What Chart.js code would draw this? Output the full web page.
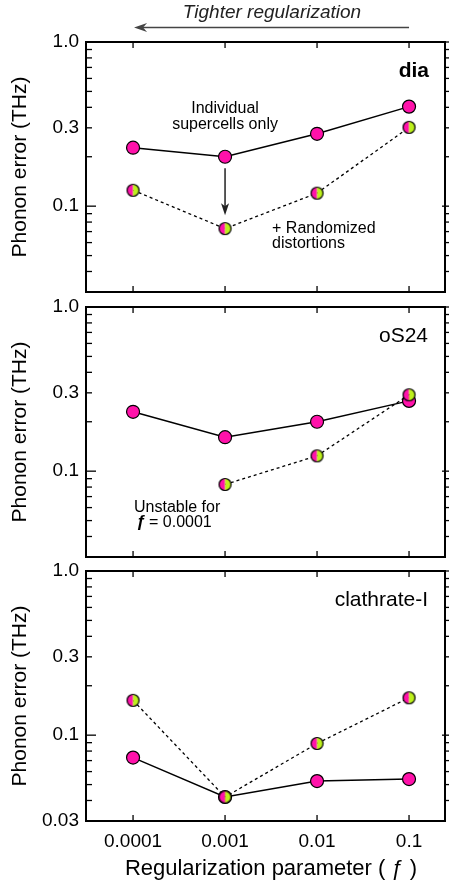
<!DOCTYPE html>
<html>
<head>
<meta charset="utf-8">
<script src="https://cdn.jsdelivr.net/npm/chart.js@4.4.1/dist/chart.umd.min.js"></script>
<style>
  body { margin: 0; background: #fff; }
  #wrap { position: relative; width: 449px; height: 884px; }
  #wrap canvas { position: absolute; left: 0; top: 0; }
</style>
</head>
<body>
<div id="wrap">
  <canvas id="dia" width="449" height="884"></canvas>
  <canvas id="os24" width="449" height="884"></canvas>
  <canvas id="clath" width="449" height="884"></canvas>
</div>
<script>
// regularization parameter f (x axis)
const regParams = [0.0001, 0.001, 0.01, 0.1];
const xTickLabels = ["0.0001", "0.001", "0.01", "0.1"];
const yTickValues = [0.03, 0.1, 0.3, 1.0];
const yTickLabels = ["0.03", "0.1", "0.3", "1.0"];
const minorTicks = [0.04, 0.05, 0.06, 0.07, 0.08, 0.09, 0.2, 0.3, 0.4, 0.5, 0.6, 0.7, 0.8, 0.9];
const majorTicks = [0.1, 1.0];

// phonon error (THz)
const diaSupercells = [0.227, 0.200, 0.276, 0.404];
const diaRandomized = [0.125, 0.073, 0.120, 0.302];
const os24Supercells = [0.230, 0.161, 0.200, 0.268];
const os24Randomized = [null, 0.083, 0.124, 0.292];
const clathSupercells = [0.073, 0.042, 0.0525, 0.054];
const clathRandomized = [0.163, 0.042, 0.089, 0.169];

const PINK = "#ff12aa";
const GREEN = "#bdf01c";
const FONT = "'Liberation Sans', Arial, sans-serif";

Chart.defaults.font.family = FONT;
Chart.defaults.color = "#000";

function halfMarker(r) {
    var c = document.createElement("canvas");
    var s = Math.ceil(2 * r + 3);
    c.width = s;
    c.height = s;
    var g = c.getContext("2d");
    var m = s / 2;
    g.fillStyle = PINK;
    g.beginPath(); g.moveTo(m, m); g.arc(m, m, r, Math.PI / 2, Math.PI * 1.5); g.closePath(); g.fill();
    g.fillStyle = GREEN;
    g.beginPath(); g.moveTo(m, m); g.arc(m, m, r, -Math.PI / 2, Math.PI / 2); g.closePath(); g.fill();
    g.strokeStyle = "#000";
    g.lineWidth = 1.2;
    g.beginPath(); g.arc(m, m, r, 0, Math.PI * 2); g.stroke();
    return c;
}
const halfPt = halfMarker(6);

function line(ctx, x1, y1, x2, y2) {
    ctx.beginPath(); ctx.moveTo(x1, y1); ctx.lineTo(x2, y2); ctx.stroke();
}

function decor(extra) {
    return {
        id: "decor",
        afterDatasetsDraw(chart) {
            var ctx = chart.ctx, a = chart.chartArea;
            var xs = chart.scales.x, ys = chart.scales.y;
            ctx.save();
            ctx.strokeStyle = "#000";
            ctx.lineWidth = 1.3;
            minorTicks.forEach(function (v) {
                var py = ys.getPixelForValue(v);
                line(ctx, a.left, py, a.left + 6, py);
                line(ctx, a.right, py, a.right + 4, py);
            });
            majorTicks.forEach(function (v) {
                var py = ys.getPixelForValue(v);
                line(ctx, a.left, py, a.left + 10, py);
                line(ctx, a.right - 3, py, a.right + 4, py);
            });
            regParams.forEach(function (v) {
                var px = xs.getPixelForValue(v);
                line(ctx, px, a.bottom, px, a.bottom - 6);
                line(ctx, px, a.top, px, a.top + 6);
            });
            ctx.lineWidth = 2;
            ctx.strokeRect(a.left, a.top, a.right - a.left, a.bottom - a.top);
            extra(ctx, a, xs, ys);
            ctx.restore();
        }
    };
}

function makePanel(id, solid, dotted, cfg) {
    var showX = cfg.showX;
    new Chart(document.getElementById(id), {
        type: "line",
        data: {
            datasets: [{
                data: regParams.map((f, i) => ({ x: f, y: dotted[i] })),
                borderColor: "#000",
                borderWidth: 1.3,
                borderDash: [3, 3],
                pointStyle: halfPt,
                pointRadius: 6,
                order: 0
            }, {
                data: regParams.map((f, i) => ({ x: f, y: solid[i] })),
                borderColor: "#000",
                borderWidth: 1.5,
                pointStyle: "circle",
                pointRadius: 6.5,
                pointBackgroundColor: PINK,
                pointBorderColor: "#000",
                pointBorderWidth: 1.2,
                order: 1
            }]
        },
        options: {
            responsive: false,
            animation: false,
            devicePixelRatio: 1,
            layout: {
                autoPadding: false,
                padding: { top: cfg.top, bottom: 884 - cfg.bottom - (showX ? 63 : 0), left: 0, right: 4 }
            },
            plugins: { legend: { display: false }, tooltip: { enabled: false } },
            scales: {
                x: {
                    type: "logarithmic",
                    min: 3.08e-5,
                    max: 0.246,
                    afterBuildTicks: s => { s.ticks = regParams.map(v => ({ value: v })); },
                    afterFit: s => { s.height = showX ? 63 : 0; },
                    grid: { display: false, drawTicks: false },
                    border: { display: false },
                    ticks: {
                        display: showX,
                        autoSkip: false,
                        maxRotation: 0,
                        padding: 9,
                        font: { size: 19 },
                        callback: (v, i) => xTickLabels[i]
                    },
                    title: {
                        display: showX,
                        text: "\u2002Regularization parameter ( \u0192 )",
                        font: { size: 22 },
                        padding: { top: 0, bottom: 2 }
                    }
                },
                y: {
                    type: "logarithmic",
                    min: 0.03,
                    max: 1.0,
                    afterBuildTicks: s => {
                        s.ticks = yTickValues.filter(v => showX || v > 0.05).map(v => ({ value: v }));
                    },
                    afterFit: s => { s.width = 86; },
                    grid: { display: false, drawTicks: false },
                    border: { display: false },
                    ticks: {
                        padding: 7,
                        font: { size: 19 },
                        callback: v => yTickLabels[yTickValues.indexOf(v)]
                    },
                    title: {
                        display: true,
                        text: "Phonon error (THz)",
                        font: { size: 21 },
                        padding: { top: 8, bottom: 0 }
                    }
                }
            }
        },
        plugins: [decor(cfg.extra)]
    });
}

function label(ctx, text, x, y, font, align) {
    ctx.font = font;
    ctx.textAlign = align || "left";
    ctx.textBaseline = "alphabetic";
    ctx.fillStyle = "#000";
    ctx.fillText(text, x, y);
}

makePanel("dia", diaSupercells, diaRandomized, {
    top: 42, bottom: 292, showX: false,
    extra: function (ctx, a, xs, ys) {
        label(ctx, "dia", a.right - 16, a.top + 35, "bold 21px " + FONT, "right");
        var cx = xs.getPixelForValue(0.001);
        label(ctx, "Individual", cx, a.top + 71, "16px " + FONT, "center");
        label(ctx, "supercells only", cx, a.top + 87, "16px " + FONT, "center");
        label(ctx, "+ Randomized", cx + 47, a.top + 191, "16px " + FONT, "left");
        label(ctx, "distortions", cx + 47, a.top + 206, "16px " + FONT, "left");
        // arrow from the solid to the dotted point
        var y1 = ys.getPixelForValue(0.17), y2 = ys.getPixelForValue(0.088);
        ctx.strokeStyle = "#222";
        ctx.fillStyle = "#222";
        ctx.lineWidth = 1.5;
        line(ctx, cx, y1, cx, y2 - 8);
        ctx.beginPath(); ctx.moveTo(cx, y2); ctx.lineTo(cx - 4, y2 - 12); ctx.lineTo(cx, y2 - 9); ctx.lineTo(cx + 4, y2 - 12); ctx.closePath(); ctx.fill();
        // top arrow
        var xl = xs.getPixelForValue(0.0001), xr = xs.getPixelForValue(0.1);
        ctx.strokeStyle = "#444";
        ctx.fillStyle = "#444";
        line(ctx, xl + 8, 27.5, xr, 27.5);
        ctx.beginPath(); ctx.moveTo(xl + 1, 27.5); ctx.lineTo(xl + 14, 23); ctx.lineTo(xl + 10, 27.5); ctx.lineTo(xl + 14, 32); ctx.closePath(); ctx.fill();
        ctx.fillStyle = "#222";
        ctx.font = "italic 19px " + FONT;
        ctx.textAlign = "center";
        ctx.fillText("Tighter regularization", 272, 18);
    }
});

makePanel("os24", os24Supercells, os24Randomized, {
    top: 307, bottom: 557, showX: false,
    extra: function (ctx, a) {
        label(ctx, "oS24", a.right - 17, a.top + 35, "21px " + FONT, "right");
        label(ctx, "Unstable for", a.left + 48, a.top + 205, "16px " + FONT, "left");
        label(ctx, "\u0192", a.left + 50, a.top + 220, "italic bold 17px " + FONT, "left");
        label(ctx, "= 0.0001", a.left + 63, a.top + 220, "16px " + FONT, "left");
    }
});

makePanel("clath", clathSupercells, clathRandomized, {
    top: 571, bottom: 821, showX: true,
    extra: function (ctx, a) {
        label(ctx, "clathrate-I", a.right - 17, a.top + 35, "21px " + FONT, "right");
    }
});
</script>
</body>
</html>
